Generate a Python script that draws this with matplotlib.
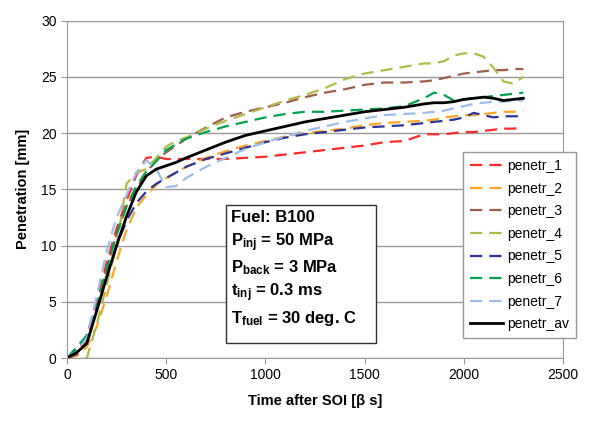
import matplotlib
matplotlib.use("Agg")
from matplotlib import pyplot as plt
from matplotlib.patches import Rectangle

plt.rcParams['font.family'] = ['Liberation Sans', 'DejaVu Sans']
plt.rcParams['mathtext.fontset'] = 'custom'
plt.rcParams['mathtext.bf'] = 'Liberation Sans:bold'
plt.rcParams['mathtext.rm'] = 'Liberation Sans:bold'
plt.rcParams['mathtext.default'] = 'bf'

# time after SOI [us]
t = [0, 50, 100, 150, 200, 250, 300, 350, 400, 450, 500, 550, 600, 700, 800, 900,
     1000, 1100, 1200, 1300, 1400, 1500, 1600, 1700, 1800, 1850, 1900, 1950, 2000,
     2050, 2100, 2150, 2200, 2250, 2300]

penetr_1 = [0, 0.4, 2.0, 5.0, 8.5, 11.5, 14.0, 16.3, 17.8, 17.9, 17.7, 17.7, 17.7, 17.7, 17.7, 17.8,
            17.9, 18.1, 18.3, 18.5, 18.7, 18.9, 19.2, 19.3, 19.9, 19.9, 19.9, 20.0, 20.1,
            20.1, 20.2, 20.3, 20.4, 20.4, 20.5]
penetr_2 = [0, 0.2, 1.0, 2.8, 5.5, 8.6, 11.4, 13.4, 14.5, 15.4, 16.0, 16.5, 17.0, 17.8, 18.4, 18.9,
            19.3, 19.7, 20.0, 20.2, 20.4, 20.7, 20.9, 21.0, 21.1, 21.2, 21.4, 21.5, 21.6,
            21.6, 21.7, 21.8, 21.9, 21.9, 22.0]
penetr_3 = [0, 0.3, 1.5, 4.5, 8.0, 11.0, 13.5, 15.0, 16.5, 17.6, 18.3, 18.9, 19.5, 20.5, 21.4, 21.9,
            22.3, 22.7, 23.2, 23.6, 23.9, 24.3, 24.5, 24.5, 24.6, 24.7, 24.9, 25.1, 25.3,
            25.4, 25.5, 25.6, 25.6, 25.7, 25.7]
penetr_4 = [0, -0.3, 0.0, 3.0, 6.5, 10.0, 15.5, 16.5, 16.8, 17.8, 18.8, 19.3, 19.6, 20.4, 21.1, 21.7,
            22.3, 22.9, 23.4, 24.0, 24.8, 25.3, 25.6, 25.9, 26.2, 26.2, 26.4, 26.9, 27.1,
            27.1, 26.8, 25.8, 24.6, 24.4, 25.0]
penetr_5 = [0, 0.8, 2.0, 4.5, 7.3, 10.0, 12.2, 13.8, 14.8, 15.5, 16.0, 16.5, 17.0, 17.7, 18.2, 18.7,
            19.2, 19.6, 19.9, 20.1, 20.3, 20.5, 20.6, 20.7, 20.9, 21.0, 21.1, 21.2, 21.4,
            21.8, 21.6, 21.4, 21.5, 21.5, 21.5]
penetr_6 = [0, 1.0, 2.0, 4.5, 8.0, 11.0, 13.5, 15.3, 16.6, 17.5, 18.5, 19.0, 19.5, 20.1, 20.6, 21.0,
            21.4, 21.7, 21.9, 21.9, 22.0, 22.1, 22.2, 22.4, 23.1, 23.6, 23.4, 22.9, 23.0,
            23.1, 23.2, 23.3, 23.4, 23.5, 23.6]
penetr_7 = [0, 0.6, 1.8, 5.5, 9.5, 12.5, 14.5, 16.5, 17.6, 16.8, 15.2, 15.3, 16.0, 17.0, 17.8, 18.6,
            19.2, 19.7, 20.2, 20.6, 21.0, 21.3, 21.6, 21.7, 21.8, 21.9, 22.0, 22.2, 22.4,
            22.6, 22.7, 22.8, 22.8, 22.9, 22.9]
penetr_av = [0, 0.5, 1.3, 4.2, 7.2, 10.0, 12.6, 14.8, 16.2, 16.8, 17.1, 17.4, 17.8, 18.5, 19.2, 19.8,
             20.2, 20.6, 21.0, 21.3, 21.6, 21.9, 22.1, 22.3, 22.6, 22.7, 22.7, 22.8, 23.0,
             23.1, 23.2, 23.1, 22.9, 23.0, 23.1]

series = [penetr_1, penetr_2, penetr_3, penetr_4, penetr_5, penetr_6, penetr_7]
labels = ["penetr_1", "penetr_2", "penetr_3", "penetr_4", "penetr_5", "penetr_6", "penetr_7"]
colors = ["#ff2a2a", "#ffa526", "#9a5e4c", "#aebb48", "#2e3396", "#00a14f", "#9dbde8"]

info = ["Fuel: B100", "$P_{inj}$ = 50 MPa", "$P_{back}$ = 3 MPa",
        "$t_{inj}$ = 0.3 ms", "$T_{fuel}$ = 30 deg. C"]

fig = plt.figure(figsize=(6.01, 4.21), dpi=100)
ax = fig.add_axes([67 / 601, 1 - 358 / 421, (563 - 67) / 601, (358 - 20.7) / 421])

for s, lab, c in zip(series, labels, colors):
    ax.plot(t, s, color=c, lw=1.6, dashes=(5.5, 3.2), label=lab)
ax.plot(t, penetr_av, color="black", lw=2.0, label="penetr_av")

ax.set_xlim(0, 2500)
ax.set_ylim(0, 30)
ax.set_xticks(range(0, 2501, 500))
ax.set_yticks(range(0, 31, 5))
ax.grid(axis="y", color="#999999", lw=1.0)
ax.set_axisbelow(True)
for sp in ax.spines.values():
    sp.set_color("#999999")
ax.tick_params(direction="out", length=4, color="#999999", labelsize=10, labelcolor="black")
ax.set_xlabel("Time after SOI [β s]", fontsize=10.5, fontweight="bold", labelpad=8)
ax.set_ylabel("Penetration [mm]", fontsize=10.5, fontweight="bold", labelpad=8)

leg = ax.legend(loc="upper left", bbox_to_anchor=(463 / 601, 1 - 152 / 421),
                bbox_transform=fig.transFigure, fontsize=10, handlelength=2.4,
                labelspacing=0.62, fancybox=False, framealpha=1, borderpad=0.5,
                handletextpad=0.3, borderaxespad=0)
leg.get_frame().set_edgecolor("#999999")
leg.get_frame().set_linewidth(1.0)

fig.patches.append(Rectangle((226 / 601, 1 - 343 / 421), 150 / 601, 138 / 421,
                             transform=fig.transFigure, fill=True, facecolor="white",
                             edgecolor="#333333", lw=1.0, zorder=5))
for i, line in enumerate(info):
    fig.text(231 / 601, 1 - (218 + 25 * i) / 421, line, fontsize=12, fontweight="bold",
             va="center", ha="left", zorder=6)

fig.savefig("out.png", dpi=100)
